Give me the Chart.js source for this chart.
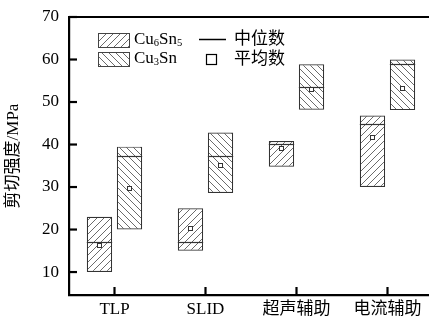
<!DOCTYPE html>
<html><head><meta charset="utf-8">
<script src="https://cdn.jsdelivr.net/npm/chart.js@4/dist/chart.umd.min.js"></script>
<style>
html,body{margin:0;padding:0;background:#fff;overflow:hidden;width:429px;height:320px}
#wrap{width:440px;height:320px;position:relative}
</style>
</head><body><div id="wrap"><canvas id="c" width="440" height="320"></canvas></div>
<script>
// ---- data ----
const categories = ['TLP', 'SLID', '超声辅助', '电流辅助'];
const cu6sn5Low    = [10.0, 15.0, 34.8, 30.0];
const cu6sn5High   = [23.0, 25.0, 40.8, 46.8];
const cu6sn5Median = [17.0, 17.0, 40.2, 44.9];
const cu6sn5Mean   = [16.3, 20.3, 39.1, 41.8];
const cu3snLow     = [20.0, 28.6, 48.2, 48.1];
const cu3snHigh    = [39.5, 42.8, 58.9, 60.0];
const cu3snMedian  = [37.4, 37.4, 53.5, 59.0];
const cu3snMean    = [29.7, 35.2, 53.0, 53.4];
const yTicks = [10, 20, 30, 40, 50, 60, 70];
const yTitle = '剪切强度/MPa';
const legendMedian = '中位数';
const legendMean = '平均数';

const FONT = "'Liberation Serif', 'Noto Sans CJK SC', serif";

function hatch(dir) {
  const s = 7;
  const c = document.createElement('canvas');
  c.width = s; c.height = s;
  const g = c.getContext('2d');
  g.fillStyle = '#fff'; g.fillRect(0, 0, s, s);
  g.strokeStyle = '#5a5a5a'; g.lineWidth = 0.9;
  g.beginPath();
  if (dir === '/') {
    g.moveTo(-1, s + 1); g.lineTo(s + 1, -1);
    g.moveTo(-1, 1); g.lineTo(1, -1);
    g.moveTo(s - 1, s + 1); g.lineTo(s + 1, s - 1);
  } else {
    g.moveTo(-1, -1); g.lineTo(s + 1, s + 1);
    g.moveTo(s - 1, -1); g.lineTo(s + 1, 1);
    g.moveTo(-1, s - 1); g.lineTo(1, s + 1);
  }
  g.stroke();
  return g.createPattern(c, 'repeat');
}

const ctx0 = document.getElementById('c').getContext('2d');
const patA = hatch('/');
const patB = hatch('\\');

function drawFormula(ctx, parts, x, y, size) {
  ctx.textBaseline = 'middle';
  ctx.textAlign = 'left';
  for (const [t, sub] of parts) {
    ctx.font = (sub ? size * 0.62 : size) + 'px ' + FONT;
    ctx.fillText(t, x, y + (sub ? size * 0.22 : 0));
    x += ctx.measureText(t).width;
  }
}

const extras = {
  id: 'extras',
  afterDatasetsDraw(chart) {
    const ctx = chart.ctx, y = chart.scales.y;
    ctx.save();
    ctx.strokeStyle = '#333';
    [[cu6sn5Median, cu6sn5Mean], [cu3snMedian, cu3snMean]].forEach(([med, mean], di) => {
      chart.getDatasetMeta(di).data.forEach((bar, j) => {
        const half = bar.width / 2;
        const ym = Math.round(y.getPixelForValue(med[j])) + 0.5;
        ctx.lineWidth = 1.2;
        ctx.beginPath(); ctx.moveTo(bar.x - half, ym); ctx.lineTo(bar.x + half, ym); ctx.stroke();
        const yn = Math.round(y.getPixelForValue(mean[j])) + 0.5;
        ctx.lineWidth = 1;
        ctx.fillStyle = '#fff';
        ctx.fillRect(bar.x - 2, yn - 2, 4, 4);
        ctx.strokeRect(bar.x - 2, yn - 2, 4, 4);
      });
    });
    ctx.restore();
  },
  afterDraw(chart) {
    const ctx = chart.ctx, a = chart.chartArea, y = chart.scales.y, x = chart.scales.x;
    ctx.save();
    ctx.strokeStyle = '#000';
    ctx.lineWidth = 2.2;
    ctx.beginPath(); ctx.moveTo(a.left - 1, a.top); ctx.lineTo(a.right, a.top); ctx.stroke();
    y.ticks.forEach((t, i) => {
      const py = y.getPixelForTick(i);
      ctx.beginPath(); ctx.moveTo(a.left, py); ctx.lineTo(a.left + 8, py); ctx.stroke();
    });
    x.ticks.forEach((t, i) => {
      const px = x.getPixelForTick(i);
      ctx.beginPath(); ctx.moveTo(px, a.bottom); ctx.lineTo(px, a.bottom - 8); ctx.stroke();
    });
    // legend
    ctx.lineWidth = 1;
    ctx.strokeStyle = '#444';
    ctx.fillStyle = patA; ctx.fillRect(98, 33, 31, 14); ctx.strokeRect(98.5, 33.5, 31, 14);
    ctx.fillStyle = patB; ctx.fillRect(98, 52, 31, 14); ctx.strokeRect(98.5, 52.5, 31, 14);
    ctx.fillStyle = '#000';
    drawFormula(ctx, [['Cu', false], ['6', true], ['Sn', false], ['5', true]], 134, 40, 17);
    drawFormula(ctx, [['Cu', false], ['3', true], ['Sn', false]], 134, 59, 17);
    ctx.strokeStyle = '#000'; ctx.lineWidth = 1.5;
    ctx.beginPath(); ctx.moveTo(199, 39.5); ctx.lineTo(226, 39.5); ctx.stroke();
    ctx.lineWidth = 1.2;
    ctx.strokeRect(206.5, 54.5, 10, 10);
    ctx.font = '17px ' + FONT;
    ctx.textBaseline = 'middle'; ctx.textAlign = 'left';
    ctx.fillText(legendMedian, 234, 40);
    ctx.fillText(legendMean, 234, 60);
    ctx.restore();
  }
};

new Chart(ctx0, {
  type: 'bar',
  data: {
    labels: categories,
    datasets: [
      { label: 'Cu6Sn5', data: cu6sn5Low.map((v, i) => [v, cu6sn5High[i]]),
        backgroundColor: patA, borderColor: '#333', borderWidth: 1.2, borderSkipped: false },
      { label: 'Cu3Sn', data: cu3snLow.map((v, i) => [v, cu3snHigh[i]]),
        backgroundColor: patB, borderColor: '#333', borderWidth: 1.2, borderSkipped: false }
    ]
  },
  options: {
    responsive: false,
    animation: false,
    devicePixelRatio: 1,
    layout: { padding: { top: 17, right: 7, left: 0, bottom: 0 } },
    categoryPercentage: 0.66,
    barPercentage: 0.843,
    plugins: { legend: { display: false }, tooltip: { enabled: false }, title: { display: false } },
    scales: {
      x: {
        grid: { display: false },
        border: { display: true, color: '#000', width: 2.2 },
        ticks: { color: '#000', font: { family: FONT, size: 17 }, padding: -4, maxRotation: 0 },
        afterFit: s => { s.height = 25; }
      },
      y: {
        min: 4.6, max: 70,
        grid: { display: false },
        border: { display: true, color: '#000', width: 2.2 },
        afterBuildTicks: s => { s.ticks = yTicks.map(v => ({ value: v })); },
        ticks: { color: '#000', font: { family: FONT, size: 17 }, padding: 2 },
        title: { display: true, text: yTitle, color: '#000', font: { family: FONT, size: 17 }, padding: { top: 3, bottom: 0 } },
        afterFit: s => { s.width = 69; }
      }
    }
  },
  plugins: [extras]
});
</script>
</body></html>
